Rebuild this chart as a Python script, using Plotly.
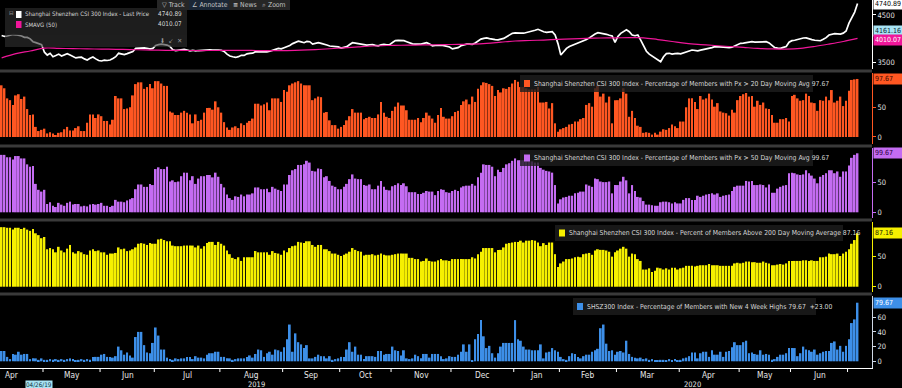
import pandas as pd
import plotly.graph_objects as go

# ---------------- data ----------------
HOLIDAYS = ["2019-05-01", "2019-05-02", "2019-05-03", "2019-06-07", "2019-09-13",
            "2019-10-01", "2019-10-02", "2019-10-03", "2019-10-04", "2019-10-07",
            "2020-01-01", "2020-01-24", "2020-01-27", "2020-01-28", "2020-01-29",
            "2020-01-30", "2020-01-31", "2020-04-06", "2020-05-01", "2020-05-04",
            "2020-05-05", "2020-06-25", "2020-06-26"]
dates = [d for d in pd.bdate_range("2019-04-10", "2020-07-06")
         if d.strftime("%Y-%m-%d") not in HOLIDAYS]

price = [
    4070, 4050, 4060, 4080, 4090, 4085, 4080, 4060, 4032, 4030,
    4000, 3940, 3920, 3900, 3880, 3720, 3660, 3697, 3626, 3650,
    3680, 3640, 3660, 3690, 3661, 3626, 3600, 3610, 3615, 3580,
    3557, 3592, 3620, 3580, 3545, 3536, 3555, 3546, 3557, 3590,
    3626, 3697, 3682, 3670, 3690, 3715, 3735, 3802, 3805, 3820,
    3812, 3802, 3790, 3800, 3860, 3880, 3890, 3880, 3870, 3840,
    3770, 3755, 3762, 3775, 3778, 3766, 3750, 3760, 3748, 3755,
    3762, 3766, 3766, 3770, 3766, 3770, 3766, 3760, 3735, 3680,
    3640, 3624, 3610, 3626, 3655, 3652, 3685, 3697, 3700, 3731,
    3731, 3722, 3728, 3725, 3740, 3766, 3780, 3800, 3790, 3815,
    3836, 3860, 3900, 3920, 3950, 3935, 3919, 3945, 3940, 3890,
    3905, 3919, 3905, 3895, 3870, 3850, 3848, 3840, 3830, 3805,
    3815, 3836, 3880, 3919, 3910, 3900, 3882, 3875, 3870, 3876,
    3880, 3862, 3855, 3875, 3885, 3875, 3880, 3922, 3962, 3968,
    3969, 3962, 3940, 3910, 3895, 3890, 3886, 3890, 3905, 3919,
    3890, 3855, 3860, 3870, 3865, 3858, 3845, 3830, 3790, 3800,
    3815, 3855, 3875, 3890, 3888, 3885, 3915, 3950, 3995, 4011,
    4020, 4005, 3990, 3985, 3980, 3990, 4010, 4045, 4080, 4116,
    4125, 4129, 4120, 4118, 4132, 4140, 4150, 4180, 4200, 4165,
    4148, 4135, 4140, 4150, 4081, 3900, 3661, 3730, 3800, 3840,
    3865, 3880, 3900, 3925, 3955, 3985, 4020, 4070, 4100, 4129,
    4120, 4116, 4095, 4075, 4060, 3926, 4050, 4116, 4150, 4190,
    4150, 4080, 4065, 4081, 3975, 3850, 3740, 3680, 3640, 3592,
    3560, 3521, 3625, 3690, 3697, 3680, 3690, 3697, 3685, 3700,
    3725, 3745, 3766, 3760, 3750, 3762, 3772, 3785, 3800, 3815,
    3836, 3828, 3820, 3825, 3822, 3815, 3825, 3850, 3880, 3907,
    3912, 3918, 3935, 3940, 3930, 3932, 3935, 3938, 3940, 3915,
    3870, 3815, 3805, 3800, 3820, 3840, 3930, 3962, 3970, 3985,
    4011, 4018, 4020, 3995, 3985, 3970, 3965, 3960, 3990, 4025,
    4080, 4102, 4110, 4105, 4100, 4120, 4163, 4330, 4450, 4560,
    4740.89]

# 50-day simple moving average, read every 5th trading day
sma50_step = 5
sma50 = [
    3600, 3690, 3745, 3805, 3800, 3795, 3790, 3785, 3780, 3775,
    3768, 3762, 3758, 3756, 3755, 3756, 3758, 3758, 3755, 3752,
    3755, 3762, 3775, 3792, 3812, 3832, 3850, 3860, 3866, 3870,
    3874, 3878, 3884, 3890, 3905, 3930, 3955, 3965, 3975, 3990,
    4000, 4010, 4018, 4022, 4024, 4022, 3985, 3945, 3905, 3880,
    3860, 3840, 3820, 3800, 3788, 3785, 3800, 3840, 3890, 3945,
    4010.07]

pct20 = [
    87, 82, 65, 62, 54, 70, 72, 64, 68, 47,
    37, 38, 17, 10, 12, 14, 6, 8, 6, 3,
    7, 8, 13, 17, 11, 11, 15, 18, 10, 10,
    24, 38, 38, 32, 38, 35, 27, 27, 21, 29,
    69, 65, 65, 47, 48, 50, 70, 89, 92, 92,
    81, 84, 89, 82, 94, 94, 90, 86, 86, 43,
    41, 37, 37, 41, 44, 41, 38, 23, 38, 27,
    29, 41, 49, 49, 46, 60, 50, 41, 25, 16,
    12, 16, 18, 15, 23, 20, 24, 27, 31, 56,
    56, 53, 55, 58, 45, 65, 65, 65, 59, 79,
    76, 87, 90, 92, 94,
    90, 87, 87, 87, 62, 65, 68, 67, 41, 42,
    28, 20, 20, 14, 17, 20, 28, 35, 47, 41,
    41, 41, 30, 32, 34, 32, 32, 38, 59, 41,
    34, 32, 44, 51, 58, 53, 53, 45, 29, 29,
    29, 32, 25, 32, 41, 36, 31, 24, 37, 49,
    34, 31, 31, 35, 42, 44, 54, 60, 63, 55,
    68, 59, 81, 87, 92, 91, 89, 86, 69, 79,
    75, 82, 81,
    84, 90, 96, 93, 84, 84, 82, 80, 80,
    80, 84, 58, 58, 59, 48, 57, 23, 9, 13,
    15, 17, 21, 22, 26, 26, 30, 32, 54,
    57, 51, 82, 87, 68, 73, 58, 68, 23, 62,
    62, 65, 82, 73, 34, 44, 32, 19, 17,
    7, 8, 7, 4, 7, 4, 9, 13, 12,
    15, 21, 18, 15, 26, 26, 50, 65, 65, 59,
    47, 69, 63, 65, 73, 63, 51, 57, 43,
    41, 40, 36, 46, 41, 62, 69, 72, 74, 68,
    69, 51, 61, 54, 58, 48, 47, 37, 24,
    24, 30, 30, 32, 26, 69, 71, 65, 61, 62,
    73, 69, 58, 57, 44, 62, 61, 68, 62,
    79, 58, 61, 68, 52, 61, 78, 96, 97, 97.67]

pct50 = [
    97, 97, 93, 93, 89, 95, 95, 91, 91, 81,
    77, 78, 48, 38, 35, 38, 14, 17, 11, 9,
    16, 13, 11, 16, 18, 13, 14, 14, 10, 11,
    10, 13, 14, 13, 14, 16, 11, 11, 9, 11,
    21, 18, 18, 17, 20, 22, 24, 39, 47, 47,
    43, 43, 48, 46, 73, 76, 73, 73, 77, 52,
    54, 51, 52, 61, 67, 67, 54, 61, 48, 57,
    61, 61, 63, 63, 59, 67, 60, 48, 42, 30,
    24, 21, 27, 26, 30, 27, 30, 30, 32, 42,
    42, 39, 39, 40, 34, 43, 40, 38, 36, 47,
    47, 63, 71, 73, 80,
    80, 81, 87, 84, 70, 69, 74, 73, 59, 61,
    53, 45, 43, 39, 39, 43, 48, 56, 64, 57,
    56, 56, 46, 45, 47, 39, 39, 45, 53, 43,
    38, 37, 44, 46, 49, 46, 49, 44, 34, 34,
    34, 31, 31, 33, 36, 35, 35, 29, 36, 39,
    38, 34, 33, 36, 38, 36, 42, 44, 45, 45,
    48, 45, 59, 67, 81, 80, 80, 77, 61, 72,
    68, 75, 81,
    83, 87, 91, 88, 88, 88, 86, 86, 86,
    84, 84, 75, 72, 70, 69, 67, 46, 15, 22,
    25, 26, 28, 28, 32, 33, 35, 35, 47,
    45, 43, 57, 56, 52, 51, 51, 52, 32, 46,
    46, 52, 60, 54, 32, 46, 36, 26, 25,
    19, 13, 13, 12, 11, 11, 17, 18, 18,
    17, 15, 17, 15, 15, 21, 24, 24, 21, 21,
    28, 26, 28, 30, 31, 32, 30, 32, 26,
    28, 29, 30, 36, 43, 45, 45, 45, 53, 52,
    53, 46, 46, 47, 46, 42, 47, 33, 33,
    40, 43, 45, 46, 66, 67, 66, 64, 63, 64,
    71, 66, 62, 57, 49, 60, 63, 66, 71,
    71, 66, 69, 60, 69, 69, 79, 92, 97, 99.67]

pct200 = [
    97, 97, 96, 96, 93, 96, 96, 94, 96, 93,
    91, 94, 87, 84, 79, 81, 61, 63, 61, 56,
    65, 59, 56, 62, 68, 56, 54, 58, 56, 53,
    52, 59, 61, 58, 59, 56, 56, 52, 54, 54,
    55, 64, 61, 62, 58, 59, 61, 64, 70, 71,
    70, 68, 71, 70, 70, 77, 78, 76, 74, 74,
    67, 66, 66, 66, 67, 67, 67, 67, 64, 67,
    62, 66, 71, 73, 73, 68, 73, 70, 67, 59,
    53, 47, 45, 48, 42, 48, 48, 48, 48, 58,
    56, 56, 56, 56, 52, 58, 55, 54, 52, 59,
    56, 63, 66, 67, 73,
    72, 71, 74, 74, 68, 65, 68, 68, 61, 61,
    58, 54, 54, 52, 50, 52, 54, 57, 63, 60,
    58, 57, 51, 52, 52, 53, 51, 52, 54, 52,
    51, 51, 52, 53, 54, 54, 54, 54, 47, 47,
    45, 45, 41, 42, 46, 42, 41, 41, 43, 45,
    43, 43, 42, 45, 45, 45, 45, 45, 45, 45,
    48, 46, 53, 57, 63, 63, 63, 63, 56, 60,
    60, 64, 70,
    71, 72, 73, 73, 75, 72, 75, 75, 76,
    75, 72, 66, 71, 68, 72, 72, 53, 32, 38,
    41, 45, 45, 46, 48, 49, 48, 53, 54,
    55, 52, 59, 61, 60, 60, 59, 57, 49, 56,
    59, 62, 65, 62, 49, 54, 53, 45, 42,
    28, 28, 30, 24, 26, 31, 30, 28, 30,
    28, 31, 31, 28, 30, 31, 34, 34, 34, 33,
    34, 35, 35, 35, 37, 35, 35, 35, 34,
    34, 34, 34, 34, 38, 39, 38, 39, 41, 41,
    40, 40, 39, 39, 41, 39, 38, 35, 35,
    36, 37, 36, 38, 42, 42, 42, 42, 42, 43,
    43, 42, 43, 42, 42, 48, 48, 49, 54,
    53, 53, 54, 50, 54, 57, 61, 70, 76, 87.16]

high4w = [
    14, 14, 6, 3, 10, 9, 13, 9, 10, 10,
    3, 4, 4, 2, 4, 2, 2, 3, 2, 3,
    2, 3, 2, 3, 4, 3, 1, 2, 3, 2,
    3, 2, 6, 6, 6, 9, 10, 6, 6, 5,
    7, 20, 15, 9, 12, 8, 5, 33, 40, 40,
    22, 12, 11, 25, 46, 35, 16, 16, 5, 3,
    2, 4, 3, 4, 4, 6, 6, 3, 7, 5,
    5, 4, 9, 11, 11, 13, 13, 6, 6, 4,
    4, 2, 3, 4, 4, 4, 6, 8, 5, 10,
    16, 15, 6, 11, 13, 9, 16, 15, 13, 19,
    30, 50, 13, 38, 26, 23, 18, 22, 4, 4,
    6, 9, 7, 7, 4, 7, 2, 3, 4, 6,
    6, 16, 26, 13, 20, 9, 9, 3, 7, 7,
    7, 6, 14, 14, 9, 10, 10, 20, 15, 14,
    8, 15, 4, 3, 4, 9, 7, 4, 10, 10,
    5, 10, 10, 10, 7, 3, 4, 7, 6, 6,
    9, 13, 23, 13, 23, 1, 30, 37, 56, 34,
    18, 21, 11, 5, 11, 20, 25,
    25, 25, 25, 56, 30, 28, 20, 16, 16, 15,
    15, 15, 23, 4, 12, 13, 18, 15, 13, 6,
    3, 2, 7, 11, 10, 6, 4, 7, 9, 9,
    13, 15, 17, 45, 50, 24, 14, 15, 9, 13,
    14, 12, 28, 10, 6, 5, 4, 5, 3, 4,
    2, 3, 1, 1, 2, 2, 1, 3, 1, 3,
    1, 2, 4, 5, 7, 12, 12, 4, 11, 13,
    13, 6, 15, 9, 9, 13, 6, 13, 14, 19,
    26, 22, 22, 26, 28, 11, 12, 10, 9, 15,
    9, 10, 9, 2, 3, 6, 9, 9, 11, 18,
    18, 18, 7, 11, 20, 16, 15, 13, 16, 9,
    11, 13, 14, 14, 25, 27, 16, 21, 13, 21,
    30, 52, 57, 79.67]

SERIES_TITLES = [
    "Shanghai Shenzhen CSI 300 Index - Percentage of Members with Px > 20 Day Moving Avg 97.67",
    "Shanghai Shenzhen CSI 300 Index - Percentage of Members with Px > 50 Day Moving Avg 99.67",
    "Shanghai Shenzhen CSI 300 Index - Percent of Members Above 200 Day Moving Average 87.16",
    "SHSZ300 Index - Percentage of Members with New 4 Week Highs 79.67  +23.00",
]
MONTHS = ["Jan", "Feb", "Mar", "Apr", "May", "Jun", "Jul", "Aug", "Sep", "Oct", "Nov", "Dec"]

# ---------------- style / layout ----------------
W, H = 902, 388
ML, MR, MT, MB = 0, 30, 0, 20
PW, PH = W - ML - MR, H - MT - MB
FONT = "DejaVu Sans Condensed, Liberation Sans Narrow, Arial Narrow, sans-serif"
ORANGE, PURPLE, YELLOW, BLUE = "#FF5722", "#C46CF2", "#F6F000", "#3D8FE8"
MAGENTA, CYAN = "#F0169A", "#A8E4F4"
TXT = "#d6d6d6"

PX_PER_DAY = 2.853
X0 = -1.63 / PX_PER_DAY
XR = [X0, X0 + PW / PX_PER_DAY]


def xp(px):
    return px / PW


def yp(py):
    return (PH - py) / PH


panels = [(0, 69), (73, 144), (148, 218), (222, 292), (296, 368)]
ranges = [[3368, 4814], [-11.8, 107.7], [-9.6, 108.6], [-8.6, 105.4], [-9.1, 88.8]]
axcol = ["#ffffff", ORANGE, PURPLE, YELLOW, "#cfd8e6"]
tickv = [[3500, 4500], [0, 50], [0, 50], [0, 50], [0, 20, 40, 60]]

fig = go.Figure()
fig.add_trace(go.Scatter(x=list(range(len(price))), y=price, mode="lines",
                         line=dict(color="#ffffff", width=1.7), yaxis="y", hoverinfo="skip"))
fig.add_trace(go.Scatter(x=[i * sma50_step for i in range(len(sma50))], y=sma50, mode="lines",
                         line=dict(color=MAGENTA, width=1.2, shape="spline"), yaxis="y",
                         hoverinfo="skip"))
for k, (vals, col) in enumerate([(pct20, ORANGE), (pct50, PURPLE), (pct200, YELLOW),
                                 (high4w, BLUE)]):
    fig.add_trace(go.Bar(x=list(range(len(vals))), y=vals, marker_color=col,
                         marker_line_width=0, width=0.64, yaxis="y%d" % (k + 2),
                         hoverinfo="skip"))

lay = dict(width=W, height=H, margin=dict(l=ML, r=MR, t=MT, b=MB),
           paper_bgcolor="#000000", plot_bgcolor="#000000", showlegend=False,
           barmode="overlay", font=dict(family=FONT, color=TXT, size=8))

# month labels & boundaries
groups = []
for i, d in enumerate(dates):
    key = (d.year, d.month)
    if not groups or groups[-1][0] != key:
        groups.append([key, i, i])
    else:
        groups[-1][2] = i
tv, tt, bounds, years = [], [], [], {}
for gi, (key, s, e) in enumerate(groups):
    if gi > 0:
        bounds.append(s - 0.5)
    if e - s + 1 >= 6:
        left = s - 7 if gi == 0 else s
        tv.append((left + e) / 2)
        tt.append(MONTHS[key[1] - 1])
    years.setdefault(key[0], [s - 0.5, e + 0.5])
    years[key[0]][1] = e + 0.5
years[min(years)][0] = XR[0]
years[max(years)][1] = XR[1]

lay["xaxis"] = dict(domain=[0, 1], range=XR, anchor="y5", showgrid=False, zeroline=False,
                    showline=True, linecolor="#ffffff", linewidth=1, ticks="",
                    showticklabels=False)
for k in range(5):
    top, bot = panels[k]
    name = "yaxis" if k == 0 else "yaxis%d" % (k + 1)
    lay[name] = dict(domain=[yp(bot), yp(top)], range=ranges[k], anchor="x", side="right",
                     showgrid=False, zeroline=False, showline=True, linecolor=axcol[k],
                     linewidth=1, ticks="outside", ticklen=3, tickcolor=axcol[k],
                     tickvals=tickv[k], tickfont=dict(size=7.5, color="#e0e0e0"),
                     automargin=False)
fig.update_layout(**lay)

shapes, anns = [], []


def text(x, y, s, size, color, xanchor="center", xref="paper", yref="paper", **kw):
    anns.append(dict(x=x, y=y, xref=xref, yref=yref, text=s, showarrow=False,
                     xanchor=xanchor, yanchor="middle",
                     font=dict(size=size, color=color), **kw))


# panel separators
for py in [69.5, 144.5, 218.5, 292.5]:
    shapes.append(dict(type="rect", xref="paper", yref="paper", x0=0, x1=1,
                       y0=yp(py + 3), y1=yp(py), fillcolor="#3a3a3a", line_width=0,
                       layer="above"))
# month boundary ticks and labels
for b in bounds:
    shapes.append(dict(type="line", xref="x", yref="paper", x0=b, x1=b, y0=0,
                       y1=yp(PH + 4), line=dict(color="#ffffff", width=1)))
for v, s in zip(tv, tt):
    text(v, yp(374.5), s, 8.3, "#e8e8e8", xref="x")
# year labels
for yr, (a, b) in years.items():
    text((a + b) / 2, yp(384.5), str(yr), 7.5, "#e8e8e8", xref="x")
text(xp(38.5), yp(384.5), "04/26/19", 6.3, "#10303a", bgcolor=CYAN, borderpad=0)


def value_box(yref, val, s, bg, fg, yshift=0):
    anns.append(dict(x=1, xref="paper", xanchor="left", xshift=1, y=val, yref=yref,
                     yanchor="middle", yshift=yshift, text=s, showarrow=False, bgcolor=bg,
                     font=dict(size=7, color=fg), borderpad=1, width=26, align="left"))


value_box("y", price[-1], "%.2f" % price[-1], "#ffffff", "#000000", -1)
value_box("y", 4161.16, "4161.16", CYAN, "#0a2630")
value_box("y", sma50[-1], "%.2f" % sma50[-1], MAGENTA, "#ffffff", -2)
value_box("y2", pct20[-1], "%.2f" % pct20[-1], ORANGE, "#3a0a00")
value_box("y3", pct50[-1], "%.2f" % pct50[-1], PURPLE, "#2a0040")
value_box("y4", pct200[-1], "%.2f" % pct200[-1], YELLOW, "#202000")
value_box("y5", high4w[-1], "%.2f" % high4w[-1], BLUE, "#ffffff")

# series legends
legs = [(520, 813, 75, 92, ORANGE), (520, 813, 150, 166, PURPLE),
        (555, 843, 225, 241, YELLOW), (573, 816, 298, 315, BLUE)]
for (x0, x1, y0, y1, col), title in zip(legs, SERIES_TITLES):
    shapes.append(dict(type="rect", xref="paper", yref="paper", x0=xp(x0), x1=xp(x1),
                       y0=yp(y1), y1=yp(y0), fillcolor="rgba(30,30,30,0.8)", line_width=0,
                       layer="above"))
    cy = (y0 + y1) / 2
    shapes.append(dict(type="rect", xref="paper", yref="paper", x0=xp(x0 + 4), x1=xp(x0 + 10),
                       y0=yp(cy + 3.5), y1=yp(cy - 3.5), fillcolor=col, line_width=0,
                       layer="above"))
    text(xp(x0 + 12), yp(cy), title, 6.8, TXT, xanchor="left")

# price legend
shapes.append(dict(type="rect", xref="paper", yref="paper", x0=xp(5), x1=xp(187),
                   y0=yp(35), y1=yp(8), fillcolor="rgba(32,32,32,0.92)", line_width=0,
                   layer="above"))
shapes.append(dict(type="rect", xref="paper", yref="paper", x0=xp(5), x1=xp(187),
                   y0=yp(47), y1=yp(35), fillcolor="rgba(50,50,50,0.6)", line_width=0,
                   layer="above"))
for cy, col, lbl, val in [(14.5, "#ffffff", "Shanghai Shenzhen CSI 300 Index - Last Price",
                           price[-1]),
                          (24.5, MAGENTA, "SMAVG (50)", sma50[-1])]:
    shapes.append(dict(type="rect", xref="paper", yref="paper", x0=xp(16), x1=xp(21.5),
                       y0=yp(cy + 3.5), y1=yp(cy - 3.5), fillcolor=col, line_width=0,
                       layer="above"))
    text(xp(23), yp(cy), lbl, 6.0, TXT, xanchor="left")
    text(xp(184), yp(cy), "%.2f" % val, 6.4, TXT, xanchor="right")
text(xp(184), yp(41), "\u2b07  \u2199  \u2715", 6.5, "#9a9a9a", xanchor="right")
text(xp(11.5), yp(13), "\u229f", 6, "#9a9a9a")

# toolbar
shapes.append(dict(type="rect", xref="paper", yref="paper", x0=xp(157), x1=xp(290),
                   y0=yp(10), y1=yp(0), fillcolor="#262626", line_width=0, layer="above"))
shapes.append(dict(type="rect", xref="paper", yref="paper", x0=xp(189), x1=xp(229),
                   y0=yp(10), y1=yp(0), fillcolor="#1b2736", line_width=0, layer="above"))
for cx, s in [(173, "\u25bd Track"), (210, "\u2220 Annotate"), (245, "\u2261 News"),
              (274, "\u2315 Zoom")]:
    text(xp(cx), yp(5), s, 6.8, "#c4c4c4")

fig.update_layout(shapes=shapes, annotations=anns)
fig.write_html("out.html", config={"displayModeBar": False},
               post_script="document.body.style.margin='0';document.body.style.background='#000';")
